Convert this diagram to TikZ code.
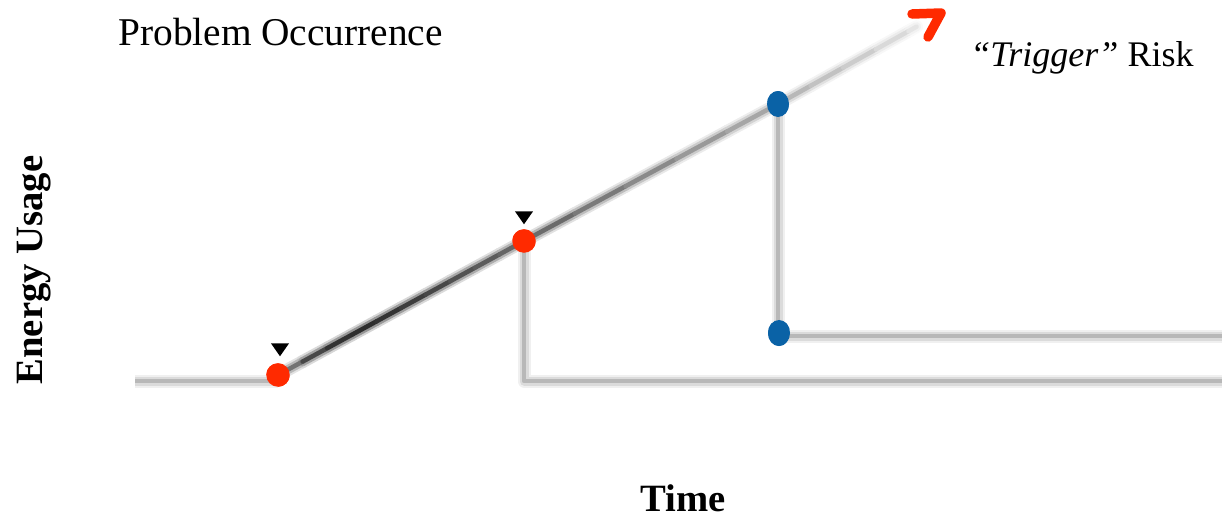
\documentclass[tikz,border=0pt]{standalone}
\usepackage{fontspec}
\setmainfont{Liberation Serif}
\usetikzlibrary{calc,shapes.geometric}
\definecolor{dotred}{HTML}{FF2A00}
\definecolor{dotblue}{HTML}{0A62A6}
\tikzset{
  px/.style={x=0.02cm,y=-0.02cm},
  reddot/.style={circle,fill=dotred,minimum size=0.47cm,inner sep=0pt},
  bluedot/.style={ellipse,fill=dotblue,minimum width=0.44cm,minimum height=0.52cm,inner sep=0pt},
  marker/.style={fill=black,draw=none,isosceles triangle,shape border rotate=-90,isosceles triangle apex angle=70,minimum height=0.26cm,minimum width=0.3cm,inner sep=0pt},
  lbl/.style={font=\fontsize{22}{26}\selectfont,inner sep=0pt},
  blurA/.style={line width=0.26cm},
  blurB/.style={line width=0.18cm},
  blurC/.style={line width=0.09cm},
}
\begin{document}
\begin{tikzpicture}[px]
\useasboundingbox (0,0) rectangle (1222,518);
% nodes
\coordinate (start) at (135,381);
\node[reddot] (r1) at (278,375) {};
\node[reddot] (r2) at (524,241) {};
\node[bluedot] (b1) at (778,104) {};
\node[bluedot] (b2) at (779,333) {};
\coordinate (tip) at (941,13);
\coordinate (end1) at (1222,381);
\coordinate (end2) at (1222,336);
\coordinate (c1) at (524,381);
\coordinate (c2) at (778,336);
% gray flat lines
\foreach \s/\d in {blurA/6,blurB/14,blurC/28}{
  \draw[\s,color=black!\d] (start) -- (278,381);
  \draw[\s,color=black!\d,line join=round] (r2.center) -- (c1) -- (end1);
  \draw[\s,color=black!\d,line join=round] (b1.center) -- (c2) -- (end2);
}
% diagonal with gradient
\foreach \s/\f in {blurA/0.2,blurB/0.5,blurC/1}{
  \foreach \a/\b/\d in {0/0.1/55,0.1/0.2/72,0.2/0.3/80,0.3/0.4/82,0.4/0.5/80,0.5/0.6/76,0.6/0.7/72,0.7/0.8/68,0.8/0.9/64,0.9/1/60}{
    \pgfmathsetmacro{\dd}{\d*\f}
    \draw[\s,color=black!\dd,line cap=round] ($(r1.center)!\a!(r2.center)$) -- ($(r1.center)!\b!(r2.center)$);
  }
  \foreach \a/\b/\d in {0/0.2/58,0.2/0.4/52,0.4/0.6/46,0.6/0.8/40,0.8/1/35}{
    \pgfmathsetmacro{\dd}{\d*\f}
    \draw[\s,color=black!\dd,line cap=round] ($(r2.center)!\a!(b1.center)$) -- ($(r2.center)!\b!(b1.center)$);
  }
  \foreach \a/\b/\d in {0/0.2/28,0.2/0.4/24,0.4/0.6/20,0.6/0.8/15,0.8/0.85/10}{
    \pgfmathsetmacro{\dd}{\d*\f}
    \draw[\s,color=black!\dd,line cap=round] ($(b1.center)!\a!(tip)$) -- ($(b1.center)!\b!(tip)$);
  }
}
% redraw dots on top
\node[reddot] at (r1) {};
\node[reddot] at (r2) {};
\node[bluedot] at (b1) {};
\node[bluedot] at (b2) {};
% arrow head
\draw[dotred,line width=0.19cm,line cap=round,line join=round] (912,14) -- (tip) -- (928,37);
% markers
\node[marker] (m1) at (280,348) {};
\node[marker] (m2) at (524,216) {};
% labels
\node[lbl,anchor=base west,font=\fontsize{22.4}{26}\selectfont] (pocc) at (118,45) {Problem Occurrence};
\node[lbl,anchor=base west,font=\fontsize{20.5}{26}\selectfont] (trig) at (970,66) {\textit{“Trigger”} Risk};
\node[lbl,anchor=base,font=\fontsize{22}{26}\selectfont\bfseries] (time) at (683,511) {Time};
\node[lbl,anchor=base,rotate=90,font=\fontsize{22}{26}\selectfont\bfseries] (energy) at (42,270) {Energy Usage};
\end{tikzpicture}
\end{document}
